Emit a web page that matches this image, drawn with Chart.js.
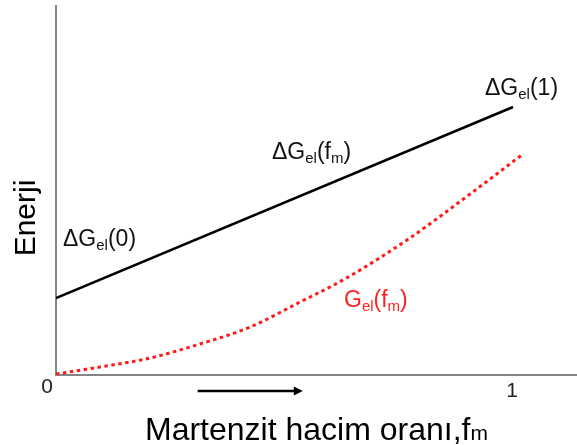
<!DOCTYPE html>
<html><head><meta charset="utf-8">
<script src="https://cdn.jsdelivr.net/npm/chart.js@4.4.0/dist/chart.umd.min.js"></script>
<style>html,body{margin:0;padding:0;background:#fff}#wrap{width:577px;height:445px;position:relative}</style>
</head><body><div id="wrap"><canvas id="c" width="577" height="445"></canvas></div>
<script>
// Straight line ΔGel(fm)
const fmLine = [0, 1];
const dGelLine = [77, 268];
// Dotted curve Gel(fm)
const fmCurve = [0, 0.096, 0.206, 0.315, 0.425, 0.534, 0.628, 0.768, 0.912, 1.022];
const gelCurve = [1, 8, 17, 31, 48, 73, 95, 135, 183, 221];
// Tick labels on x axis
const xTickValues = [0, 1];
const xTickLabels = ['0', '1'];
const yTitle = 'Enerji';
const xTitleMain = 'Martenzit hacim oranı,';
const xTitleSymbol = 'f';
const xTitleSub = 'm';

const FONT = "'Liberation Sans', Arial, sans-serif";

function drawRich(ctx, x, y, segs, color) {
  ctx.save();
  ctx.fillStyle = color;
  ctx.textBaseline = 'alphabetic';
  ctx.textAlign = 'left';
  let cx = x;
  for (const s of segs) {
    ctx.font = s.size + 'px ' + FONT;
    ctx.fillText(s.t, cx, y + (s.dy || 0));
    cx += ctx.measureText(s.t).width;
  }
  ctx.restore();
}

const overlay = {
  id: 'overlay',
  beforeDatasetsDraw(chart) {
    const ctx = chart.ctx, a = chart.chartArea;
    ctx.save();
    ctx.strokeStyle = '#858585';
    ctx.lineWidth = 2;
    ctx.beginPath();
    ctx.moveTo(a.left, a.top);
    ctx.lineTo(a.left, a.bottom);
    ctx.lineTo(a.right, a.bottom);
    ctx.stroke();
    ctx.restore();
  },
  afterDraw(chart) {
    const ctx = chart.ctx, a = chart.chartArea;
    const xs = chart.scales.x;
    // tick labels
    ctx.save();
    ctx.fillStyle = '#222';
    ctx.font = '21px ' + FONT;
    ctx.textAlign = 'center';
    ctx.fillText(xTickLabels[0], xs.getPixelForValue(xTickValues[0]) - 9, a.bottom + 18);
    ctx.fillText(xTickLabels[1], xs.getPixelForValue(xTickValues[1]) - 1, a.bottom + 22);
    // arrow
    const ax0 = xs.getPixelForValue(0.31), ax1 = xs.getPixelForValue(0.54), ay = a.bottom + 16;
    ctx.strokeStyle = '#000';
    ctx.fillStyle = '#000';
    ctx.lineWidth = 2.5;
    ctx.beginPath();
    ctx.moveTo(ax0, ay);
    ctx.lineTo(ax1 - 8, ay);
    ctx.stroke();
    ctx.beginPath();
    ctx.moveTo(ax1, ay);
    ctx.lineTo(ax1 - 9, ay - 4.5);
    ctx.lineTo(ax1 - 9, ay + 4.5);
    ctx.closePath();
    ctx.fill();
    // y title
    ctx.save();
    ctx.translate(35, 218);
    ctx.rotate(-Math.PI / 2);
    ctx.font = '30px ' + FONT;
    ctx.textAlign = 'center';
    ctx.fillText(yTitle, 0, 0);
    ctx.restore();
    ctx.restore();
    // x title
    drawRich(ctx, 145, 440, [
      {t: xTitleMain, size: 32},
      {t: xTitleSymbol, size: 32},
      {t: xTitleSub, size: 21}
    ], '#000');
    // annotations
    const big = 23, small = 15;
    drawRich(ctx, 63, 246, [{t:'ΔG',size:big},{t:'el',size:small,dy:4},{t:'(0)',size:big}], '#111');
    drawRich(ctx, 272, 159, [{t:'ΔG',size:big},{t:'el',size:small,dy:4},{t:'(f',size:big},{t:'m',size:small,dy:4},{t:')',size:big}], '#111');
    drawRich(ctx, 485, 95, [{t:'ΔG',size:big},{t:'el',size:small,dy:4},{t:'(1)',size:big}], '#111');
    drawRich(ctx, 344, 307, [{t:'G',size:big},{t:'el',size:small,dy:4},{t:'(f',size:big},{t:'m',size:small,dy:4},{t:')',size:big}], '#ff1f1f');
  }
};

new Chart(document.getElementById('c'), {
  type: 'scatter',
  data: {
    datasets: [
      {
        data: fmLine.map((x, i) => ({x, y: dGelLine[i]})),
        showLine: true,
        borderColor: '#000',
        borderWidth: 2.5,
        pointRadius: 0,
        tension: 0
      },
      {
        data: fmCurve.map((x, i) => ({x, y: gelCurve[i]})),
        showLine: true,
        borderColor: '#ff1a1a',
        borderWidth: 3,
        borderDash: [3.5, 3.5],
        pointRadius: 0,
        cubicInterpolationMode: 'monotone'
      }
    ]
  },
  options: {
    responsive: false,
    animation: false,
    devicePixelRatio: 1,
    layout: {padding: {left: 56, top: 5, right: 0, bottom: 70}},
    plugins: {legend: {display: false}, tooltip: {enabled: false}},
    scales: {
      x: {type: 'linear', min: 0, max: 1.14, display: false},
      y: {type: 'linear', min: 0, max: 370, display: false}
    }
  },
  plugins: [overlay]
});
</script>
</body></html>
